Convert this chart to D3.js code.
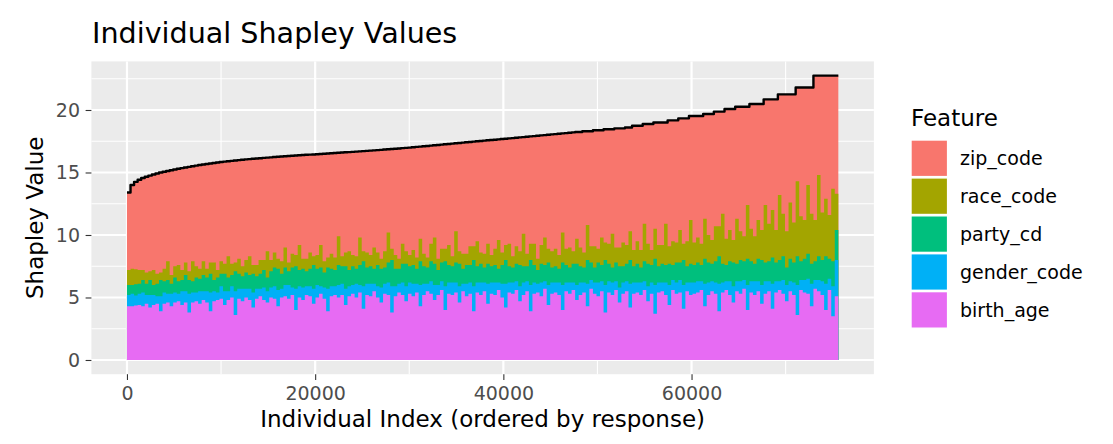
<!DOCTYPE html>
<html>
<head>
<meta charset="utf-8">
<title>Individual Shapley Values</title>
<script src="https://cdn.jsdelivr.net/npm/d3@7"></script>
<style>
	body { margin: 0; background: #fff; }
	svg { display: block; font-family: "DejaVu Sans", sans-serif; }
</style>
</head>
<body>
<script>
"use strict";

// one sample every 378 individuals, 75600 individuals in all
var sampleStep = 378,
	nIndividuals = 75600,
	individualIndex = d3.range(200).map(k => k * sampleStep);

var features = ["zip_code", "race_code", "party_cd", "gender_code", "birth_age"],
	featureColours = ["#F8766D", "#A3A500", "#00BF7D", "#00B0F6", "#E76BF3"];

var xTicks = [0, 20000, 40000, 60000],
	xMinor = [10000, 30000, 50000, 70000],
	yTicks = [0, 5, 10, 15, 20],
	yMinor = [2.5, 7.5, 12.5, 17.5, 22.5];

// response (sum of the Shapley values)
var response = [
	13.4, 14.0, 14.25, 14.42, 14.56, 14.66, 14.75, 14.84, 14.92, 15.0, 15.06, 15.12, 15.18, 15.24, 15.3, 15.35, 15.4, 15.45, 15.5, 15.55,
	15.6, 15.64, 15.68, 15.72, 15.76, 15.8, 15.84, 15.87, 15.9, 15.93, 15.96, 15.99, 16.02, 16.05, 16.07, 16.1, 16.12, 16.14, 16.17, 16.19,
	16.21, 16.24, 16.26, 16.28, 16.3, 16.32, 16.34, 16.36, 16.38, 16.4, 16.42, 16.43, 16.44, 16.46, 16.48, 16.5, 16.52, 16.54, 16.56, 16.58,
	16.6, 16.62, 16.63, 16.65, 16.67, 16.69, 16.71, 16.73, 16.75, 16.77, 16.79, 16.81, 16.84, 16.86, 16.88, 16.9, 16.92, 16.95, 16.97, 16.99,
	17.02, 17.05, 17.07, 17.1, 17.12, 17.15, 17.18, 17.2, 17.23, 17.26, 17.28, 17.31, 17.34, 17.36, 17.39, 17.42, 17.44, 17.47, 17.5, 17.52,
	17.55, 17.58, 17.6, 17.62, 17.65, 17.68, 17.7, 17.73, 17.75, 17.78, 17.81, 17.83, 17.86, 17.89, 17.91, 17.94, 17.97, 17.99, 18.02, 18.05,
	18.07, 18.1, 18.13, 18.15, 18.18, 18.21, 18.24, 18.24, 18.3, 18.3, 18.3, 18.38, 18.38, 18.38, 18.46, 18.46, 18.46, 18.53, 18.53, 18.53,
	18.6, 18.6, 18.74, 18.74, 18.74, 18.88, 18.88, 18.88, 19.0, 19.0, 19.0, 19.0, 19.17, 19.17, 19.17, 19.33, 19.33, 19.33, 19.52, 19.52,
	19.52, 19.52, 19.68, 19.68, 19.68, 19.87, 19.87, 19.87, 20.08, 20.08, 20.08, 20.26, 20.26, 20.26, 20.26, 20.48, 20.48, 20.48, 20.48, 20.85,
	20.85, 20.85, 20.85, 21.25, 21.25, 21.25, 21.25, 21.25, 21.8, 21.8, 21.8, 21.8, 21.8, 22.75, 22.75, 22.75, 22.75, 22.75, 22.75, 22.75
];

var birthAge = [
	4.3, 4.3, 4.35, 4.4, 4.3, 4.5, 4.2, 4.4, 4.5, 3.9, 4.5, 4.6, 4.3, 4.6, 4.7, 4.4, 4.6, 3.8, 4.6, 4.7,
	4.5, 4.8, 4.6, 3.9, 4.7, 4.8, 4.9, 4.4, 4.8, 5.0, 3.6, 4.9, 4.7, 5.0, 4.8, 4.2, 4.9, 5.1, 4.8, 4.6,
	5.0, 4.9, 4.3, 5.0, 5.1, 4.9, 5.2, 4.0, 5.0, 4.8, 5.2, 5.1, 4.5, 5.0, 5.3, 4.9, 3.9, 5.1, 5.2, 5.0,
	5.2, 4.4, 5.1, 5.3, 5.0, 5.4, 4.1, 5.2, 5.1, 5.5, 5.0, 4.6, 5.3, 5.2, 3.8, 5.1, 5.4, 5.2, 4.7, 5.3,
	5.1, 5.4, 4.3, 5.2, 5.5, 5.3, 4.8, 5.2, 5.6, 4.0, 5.3, 5.2, 5.4, 4.6, 5.5, 5.1, 5.3, 3.9, 5.4, 5.2,
	5.5, 4.5, 5.3, 5.2, 5.6, 5.0, 4.2, 5.4, 5.3, 5.6, 4.7, 5.2, 5.5, 3.9, 5.3, 5.4, 5.1, 5.7, 4.4, 5.3,
	5.4, 5.2, 4.0, 5.5, 5.3, 5.6, 4.8, 5.2, 5.4, 4.3, 5.7, 5.3, 5.1, 5.5, 3.8, 5.4, 5.2, 5.6, 4.6, 5.3,
	5.5, 4.2, 5.3, 5.4, 5.2, 5.6, 4.7, 5.3, 3.7, 5.4, 5.5, 5.2, 4.4, 5.6, 5.3, 5.4, 4.1, 5.5, 5.2, 5.3,
	5.4, 5.6, 4.3, 5.2, 5.5, 5.3, 3.9, 5.4, 5.6, 5.2, 4.6, 5.5, 5.3, 5.7, 4.0, 5.4, 5.2, 5.5, 4.5, 5.3,
	5.5, 4.1, 5.4, 5.6, 5.3, 4.7, 5.5, 5.2, 3.6, 5.6, 5.4, 5.3, 4.3, 5.7, 5.5, 5.2, 4.0, 5.6, 3.5, 5.1
];

var genderCode = [
	0.9, 1.0, 0.8, 0.9, 1.1, 0.7, 1.0, 0.8, 0.6, 1.2, 0.9, 0.7, 1.0, 0.8, 0.6, 1.1, 0.9, 1.5, 0.8, 0.7,
	1.0, 0.7, 0.9, 1.5, 0.8, 0.6, 1.0, 1.1, 0.7, 0.9, 1.9, 0.8, 1.0, 0.7, 0.9, 1.2, 0.8, 0.6, 1.0, 0.9,
	0.8, 1.0, 1.3, 0.7, 0.9, 1.1, 0.6, 1.7, 0.9, 1.0, 0.7, 0.8, 1.2, 1.0, 0.6, 0.9, 1.8, 0.8, 0.7, 1.0,
	0.9, 1.3, 0.8, 0.7, 1.1, 0.6, 1.8, 0.9, 1.0, 0.6, 0.9, 1.2, 0.8, 1.0, 2.1, 0.8, 0.7, 1.0, 1.2, 0.9,
	1.0, 0.7, 1.7, 0.9, 0.6, 1.0, 1.2, 0.8, 0.7, 1.9, 0.9, 1.0, 0.8, 1.3, 0.6, 1.0, 0.9, 2.0, 0.8, 1.0,
	0.7, 1.6, 0.9, 1.0, 0.6, 1.1, 1.9, 0.8, 0.9, 0.7, 1.2, 1.0, 0.8, 2.1, 0.9, 0.7, 1.1, 0.6, 1.6, 0.9,
	0.8, 1.0, 2.0, 0.7, 0.9, 0.6, 1.2, 1.0, 0.8, 1.8, 0.7, 0.9, 1.1, 0.8, 2.2, 0.9, 1.0, 0.7, 1.2, 0.9,
	0.8, 1.9, 0.9, 0.8, 1.0, 0.7, 1.2, 0.9, 2.3, 0.8, 0.7, 1.0, 1.6, 0.8, 0.9, 1.0, 1.9, 0.7, 1.0, 0.9,
	0.9, 0.7, 1.8, 1.0, 0.8, 0.9, 2.2, 0.8, 0.7, 1.1, 1.3, 0.8, 1.0, 0.7, 2.0, 0.9, 1.1, 0.8, 1.5, 1.0,
	0.8, 2.0, 0.9, 0.7, 1.1, 1.3, 0.8, 1.0, 2.4, 0.8, 1.0, 1.2, 1.8, 0.7, 0.9, 1.1, 2.1, 0.9, 2.4, 2.9
];

var partyCd = [
	0.8, 0.7, 0.9, 0.8, 1.0, 0.9, 1.2, 0.8, 1.0, 1.3, 0.9, 1.1, 0.8, 1.2, 1.0, 0.9, 1.3, 1.1, 0.9, 1.2,
	1.0, 1.3, 1.1, 1.5, 0.9, 1.2, 1.0, 1.4, 1.1, 0.9, 1.6, 1.2, 1.0, 1.3, 1.1, 1.5, 1.0, 1.2, 1.4, 1.1,
	1.3, 1.5, 1.7, 1.2, 1.4, 1.1, 1.6, 1.8, 1.3, 1.5, 1.2, 1.4, 1.9, 1.3, 1.5, 1.2, 1.7, 1.4, 1.3, 1.6,
	1.4, 1.8, 1.3, 1.5, 1.2, 1.6, 2.0, 1.3, 1.4, 1.2, 1.7, 1.5, 1.3, 1.6, 2.1, 1.4, 1.2, 1.5, 1.8, 1.3,
	1.5, 1.2, 1.9, 1.4, 1.3, 1.6, 1.7, 1.2, 1.5, 2.0, 1.4, 1.3, 1.6, 1.8, 1.2, 1.5, 1.4, 2.1, 1.3, 1.5,
	1.2, 1.6, 1.3, 1.4, 1.1, 1.5, 1.9, 1.3, 1.2, 1.4, 1.7, 1.3, 1.2, 2.0, 1.4, 1.1, 1.5, 1.3, 1.8, 1.2,
	1.3, 1.1, 1.8, 1.4, 1.2, 1.5, 1.7, 1.3, 1.2, 1.9, 1.4, 1.2, 1.6, 1.3, 2.0, 1.4, 1.2, 1.5, 1.7, 1.3,
	1.4, 1.9, 1.3, 1.5, 1.2, 1.6, 1.8, 1.4, 2.1, 1.3, 1.5, 1.4, 1.7, 1.2, 1.6, 1.4, 2.0, 1.3, 1.5, 1.4,
	1.5, 1.3, 2.0, 1.6, 1.4, 1.7, 2.2, 1.5, 1.3, 1.6, 1.9, 1.4, 1.7, 1.5, 2.1, 1.6, 1.4, 1.8, 2.0, 1.5,
	1.6, 2.1, 1.5, 1.7, 1.9, 1.4, 1.8, 1.6, 2.3, 1.5, 1.7, 2.0, 1.6, 1.5, 1.9, 1.7, 2.2, 1.6, 2.0, 2.4
];

var raceCode = [
	1.2, 1.3, 1.2, 1.1, 0.8, 0.9, 0.7, 1.2, 0.8, 0.6, 1.0, 1.5, 0.7, 0.9, 1.3, 0.8, 1.0, 0.7, 1.6, 0.9,
	0.8, 1.1, 0.7, 0.9, 1.4, 0.6, 1.0, 0.8, 1.7, 0.9, 0.7, 1.2, 0.8, 1.0, 1.5, 0.7, 0.9, 1.1, 0.8, 2.1,
	0.9, 1.2, 0.8, 1.0, 1.6, 0.7, 1.1, 0.9, 2.0, 0.8, 1.0, 1.3, 0.7, 1.1, 1.8, 0.9, 0.8, 1.2, 1.0, 2.3,
	0.8, 1.1, 1.5, 0.9, 1.0, 2.2, 0.8, 1.2, 0.9, 1.7, 1.0, 0.8, 1.3, 2.4, 0.9, 1.1, 0.8, 1.6, 1.0, 0.9,
	1.2, 0.9, 1.8, 1.0, 0.8, 1.4, 2.1, 0.9, 1.1, 1.0, 1.6, 0.8, 2.5, 1.0, 1.2, 0.9, 1.5, 1.1, 2.0, 0.9,
	1.1, 1.6, 0.9, 1.3, 2.3, 1.0, 1.2, 1.8, 0.9, 1.4, 1.1, 2.6, 1.0, 1.3, 1.7, 0.9, 1.5, 2.2, 1.1, 1.3,
	1.4, 1.1, 2.4, 1.3, 1.6, 1.0, 2.0, 1.5, 1.2, 2.8, 1.3, 1.7, 1.1, 2.2, 1.4, 1.6, 2.7, 1.2, 1.5, 1.9,
	1.5, 2.3, 1.3, 1.8, 1.4, 3.0, 1.6, 1.2, 2.4, 1.7, 1.5, 3.3, 1.4, 1.9, 1.6, 2.6, 1.3, 2.0, 3.5, 1.8,
	2.0, 1.7, 3.2, 2.2, 1.9, 2.8, 2.4, 4.0, 2.1, 2.5, 1.8, 3.6, 2.3, 2.0, 4.3, 2.6, 2.2, 3.1, 2.4, 4.6,
	3.0, 3.8, 2.6, 5.2, 3.4, 2.9, 4.5, 3.2, 6.0, 3.6, 3.1, 5.5, 4.0, 3.3, 6.5, 3.8, 4.6, 3.5, 5.8, 2.9
];


// table for d3.stack : zip_code is what remains of the response
var rows = individualIndex.map((idx, k) => ({
	idx: idx,
	response: response[k],
	birth_age: birthAge[k],
	gender_code: genderCode[k],
	party_cd: partyCd[k],
	race_code: raceCode[k],
	zip_code: response[k] - birthAge[k] - genderCode[k] - partyCd[k] - raceCode[k]
}));
rows.push(Object.assign({}, rows[rows.length - 1], { idx: nIndividuals })); // close the last step

var stackOrder = features.slice().reverse(),
	layers = d3.stack().keys(stackOrder)(rows),
	colourOf = d3.scaleOrdinal().domain(features).range(featureColours);


// panel geometry (ggplot grey theme)
var panel = { left: 91.4, right: 873.9, top: 61.4, bottom: 374.2 },
	xPad = nIndividuals * 0.05,
	yMax = d3.max(response),
	yPad = yMax * 0.05;

var x = d3.scaleLinear()
		.domain([-xPad, nIndividuals + xPad])
		.range([panel.left, panel.right]),
	y = d3.scaleLinear()
		.domain([-yPad, yMax + yPad])
		.range([panel.bottom, panel.top]);

var svgEl = d3.select("body").append("svg")
	.attr("width", 1113)
	.attr("height", 444)
	.attr("xmlns", "http://www.w3.org/2000/svg");

svgEl.append("rect")
	.attr("width", 1113)
	.attr("height", 444)
	.attr("fill", "#fff");

// background and grid
svgEl.append("rect")
	.attr("x", panel.left)
	.attr("y", panel.top)
	.attr("width", panel.right - panel.left)
	.attr("height", panel.bottom - panel.top)
	.attr("fill", "#EBEBEB");

var grid = svgEl.append("g").attr("stroke", "#fff").attr("fill", "none");
grid.selectAll(".xminor").data(xMinor).enter().append("line")
	.attr("x1", d => x(d)).attr("x2", d => x(d))
	.attr("y1", panel.top).attr("y2", panel.bottom)
	.attr("stroke-width", 1.1);
grid.selectAll(".yminor").data(yMinor).enter().append("line")
	.attr("x1", panel.left).attr("x2", panel.right)
	.attr("y1", d => y(d)).attr("y2", d => y(d))
	.attr("stroke-width", 1.1);
grid.selectAll(".xmajor").data(xTicks).enter().append("line")
	.attr("x1", d => x(d)).attr("x2", d => x(d))
	.attr("y1", panel.top).attr("y2", panel.bottom)
	.attr("stroke-width", 2.2);
grid.selectAll(".ymajor").data(yTicks).enter().append("line")
	.attr("x1", panel.left).attr("x2", panel.right)
	.attr("y1", d => y(d)).attr("y2", d => y(d))
	.attr("stroke-width", 2.2);

// stacked areas, top layer first, each filled down to zero so no seams show
var area = d3.area()
	.x(d => x(d.data.idx))
	.y0(y(0))
	.y1(d => y(d[1]))
	.curve(d3.curveStepAfter);

svgEl.append("g")
	.selectAll("path")
	.data(layers.slice().reverse())
	.enter()
		.append("path")
		.attr("d", area)
		.attr("fill", d => colourOf(d.key));

// response line
var line = d3.line()
	.x(d => x(d.idx))
	.y(d => y(d.response))
	.curve(d3.curveStepAfter);

svgEl.append("path")
	.datum(rows)
	.attr("d", line)
	.attr("fill", "none")
	.attr("stroke", "#000")
	.attr("stroke-width", 2.4)
	.attr("stroke-linejoin", "round");

// axes
var yAxis = svgEl.append("g")
	.attr("transform", "translate(" + panel.left + ",0)")
	.call(d3.axisLeft(y).tickValues(yTicks).tickSize(5.8).tickPadding(5.6));
var xAxis = svgEl.append("g")
	.attr("transform", "translate(0," + panel.bottom + ")")
	.call(d3.axisBottom(x).tickValues(xTicks).tickFormat(d3.format("d")).tickSize(5.8).tickPadding(6.5));

[xAxis, yAxis].forEach(a => {
	a.select(".domain").remove();
	a.selectAll(".tick line").attr("stroke", "#333333").attr("stroke-width", 1.1);
	a.selectAll(".tick text")
		.attr("fill", "#4D4D4D")
		.style("font-size", "19px")
		.style("font-family", "'DejaVu Sans', sans-serif");
});

// titles
svgEl.append("text")
	.attr("x", 92)
	.attr("y", 43)
	.style("font-size", "28.6px")
	.attr("fill", "#000")
	.text("Individual Shapley Values");

svgEl.append("text")
	.attr("x", (panel.left + panel.right) / 2)
	.attr("y", 427)
	.attr("text-anchor", "middle")
	.style("font-size", "23px")
	.text("Individual Index (ordered by response)");

svgEl.append("text")
	.attr("transform", "translate(43," + (panel.top + panel.bottom) / 2 + ") rotate(-90)")
	.attr("text-anchor", "middle")
	.style("font-size", "23px")
	.text("Shapley Value");

// legend
var legend = svgEl.append("g").attr("transform", "translate(911,0)");
legend.append("text")
	.attr("x", 0)
	.attr("y", 126)
	.style("font-size", "23px")
	.text("Feature");

var keys = legend.selectAll(".key")
	.data(features)
	.enter()
		.append("g")
		.attr("transform", (d, i) => "translate(0," + (140 + i * 37.9) + ")");
keys.append("rect")
	.attr("width", 36.6)
	.attr("height", 36.6)
	.attr("fill", d => colourOf(d))
	.attr("stroke", "#fff")
	.attr("stroke-width", 1.4);
keys.append("text")
	.attr("x", 49)
	.attr("y", 18.3)
	.attr("dy", "0.35em")
	.style("font-size", "19px")
	.text(d => d);
</script>
</body>
</html>
